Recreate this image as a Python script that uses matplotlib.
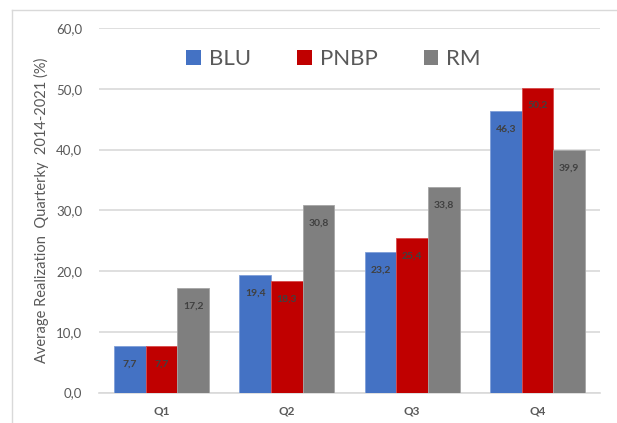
import matplotlib.pyplot as plt
import numpy as np
from matplotlib.lines import Line2D
from matplotlib.patches import Patch

plt.rcParams["font.family"] = ["Lato", "DejaVu Sans"]

quarters = ["Q1", "Q2", "Q3", "Q4"]
series_names = ["BLU", "PNBP", "RM"]
blu = [7.7, 19.4, 23.2, 46.3]
pnbp = [7.7, 18.3, 25.4, 50.2]
rm = [17.2, 30.8, 33.8, 39.9]
yticks = [0, 10, 20, 30, 40, 50, 60]

colors = ["#4472C4", "#C00000", "#7F7F7F"]
edges = ["#7F9ED8", "#D84B4B", "#A6A6A6"]
grid_color = "#D9D9D9"
text_color = "#595959"

fig = plt.figure(figsize=(6.17, 4.23), dpi=100)
ax = fig.add_axes([0.1605, 0.0719, 0.8119, 0.8619])

x = np.arange(len(quarters))
width = 0.253
for i, (vals, c, ec) in enumerate(zip([blu, pnbp, rm], colors, edges)):
    bars = ax.bar(x + (i - 1) * width, vals, width, color=c, edgecolor=ec,
                  linewidth=0.6, zorder=3)
    for b, v in zip(bars, vals):
        ax.annotate(f"{v:.1f}".replace(".", ","),
                    (b.get_x() + b.get_width() / 2, v),
                    xytext=(0, -13), textcoords="offset points",
                    ha="center", va="center", fontsize=7.5, fontweight="bold",
                    color="#404040", zorder=4)

ax.set_xlim(-0.5, len(quarters) - 0.5)
ax.set_ylim(0, 60)
ax.set_yticks(yticks)
ax.set_yticklabels([f"{t:.1f}".replace(".", ",") for t in yticks])
ax.set_xticks(x)
ax.set_xticklabels(quarters, fontweight="bold")
ax.tick_params(axis="y", length=0, pad=12, labelsize=9.5, labelcolor=text_color)
ax.tick_params(axis="x", length=0, pad=9, labelsize=8.5, labelcolor=text_color)
ax.grid(axis="y", color=grid_color, linewidth=1.2, zorder=0)
for s in ["top", "right", "left"]:
    ax.spines[s].set_visible(False)
ax.spines["bottom"].set_color(grid_color)
ax.spines["bottom"].set_linewidth(1.2)

ax.set_ylabel("Average Realization  Quarterky  2014-2021 (%)", fontsize=10.5,
              color=text_color, labelpad=5)

handles = [Patch(facecolor=c, edgecolor="none") for c in colors]
ax.legend(handles, series_names, loc="center", bbox_to_anchor=(0.468, 0.914),
          ncol=3, frameon=False, fontsize=16, labelcolor=text_color,
          handlelength=0.65, handleheight=0.65, handletextpad=0.35,
          columnspacing=2.1)

# outer chart frame (left and top edges)
fig.add_artist(Line2D([12 / 617, 12 / 617], [0, 1 - 10 / 423],
                      transform=fig.transFigure, color=grid_color, linewidth=1))
fig.add_artist(Line2D([12 / 617, 1], [1 - 10 / 423, 1 - 10 / 423],
                      transform=fig.transFigure, color=grid_color, linewidth=1))

fig.savefig("out.png", dpi=100)
